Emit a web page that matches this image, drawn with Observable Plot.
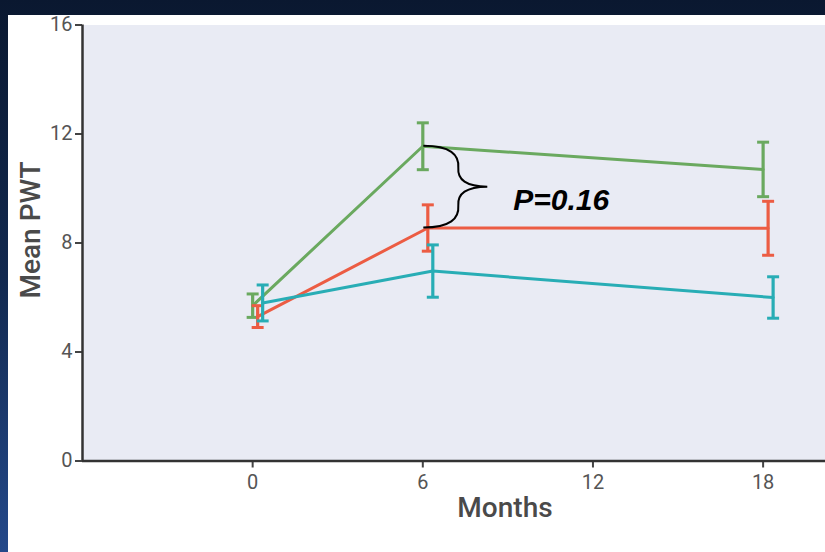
<!DOCTYPE html>
<html><head><meta charset="utf-8">
<script src="https://cdn.jsdelivr.net/npm/d3@7"></script>
<script src="https://cdn.jsdelivr.net/npm/@observablehq/plot@0.6"></script>
<style>
html,body{margin:0;padding:0;}
body{width:825px;height:552px;overflow:hidden;position:relative;background:linear-gradient(to bottom,#0a1830 0%,#12294f 50%,#24498a 100%);font-family:Roboto,sans-serif;}
#panel{position:absolute;left:8px;top:15px;width:817px;height:537px;background:#fff;}
#chart{position:absolute;left:0;top:0;}
#ylabel{position:absolute;left:22px;top:215px;transform:translate(-50%,-50%) rotate(-90deg);font:500 28px Roboto,sans-serif;color:#4a4a4a;white-space:nowrap;}
#xlabel{position:absolute;left:497px;top:492px;transform:translate(-50%,-50%);font:500 28px Roboto,sans-serif;color:#4a4a4a;white-space:nowrap;}
</style></head>
<body>
<div id="panel"><div id="chart"></div><div id="ylabel">Mean PWT</div><div id="xlabel">Months</div></div>
<script>
// ---- data ----
const months = [0, 6, 18];
const seriesNames = ["Green group", "Red group", "Teal group"];
const greenMean = [5.7, 11.55, 10.7];
const greenErr  = [0.43, 0.86, 1.0];
const redMean   = [5.3, 8.55, 8.54];
const redErr    = [0.4, 0.85, 0.99];
const tealMean  = [5.8, 6.97, 6.0];
const tealErr   = [0.66, 0.96, 0.76];
const xTicks = [0, 6, 12, 18];
const yTicks = [0, 4, 8, 12, 16];
const pValueLabel = "P=0.16";

// ---- styles ----
const seriesColors = ["#6aa95f", "#ec5c43", "#28adb5"];
const seriesDx = [0, 5, 10];

const means = [greenMean, redMean, tealMean];
const errs = [greenErr, redErr, tealErr];
const series = seriesNames.map((name, i) => ({
  name, color: seriesColors[i], dx: seriesDx[i],
  rows: months.map((m, j) => ({month: m, mean: means[i][j], err: errs[i][j], series: name}))
}));

const capSymbol = {
  draw(context, size) {
    const r = Math.sqrt(size / Math.PI);
    context.moveTo(-r, 0);
    context.lineTo(r, 0);
  }
};

const seriesMarks = series.flatMap(s => [
  Plot.line(s.rows, {x: "month", y: "mean", stroke: s.color, strokeWidth: 3, dx: s.dx}),
  Plot.ruleX(s.rows, {x: "month", y1: d => d.mean - d.err, y2: d => d.mean + d.err, stroke: s.color, strokeWidth: 3.2, dx: s.dx}),
  Plot.dot(s.rows, {x: "month", y: d => d.mean + d.err, symbol: capSymbol, r: 6, stroke: s.color, strokeWidth: 3, dx: s.dx}),
  Plot.dot(s.rows, {x: "month", y: d => d.mean - d.err, symbol: capSymbol, r: 6, stroke: s.color, strokeWidth: 3, dx: s.dx})
]);

const chart = Plot.plot({
  width: 817, height: 537,
  marginLeft: 74, marginRight: 0, marginTop: 9.5, marginBottom: 91.5,
  style: {fontFamily: "Roboto, sans-serif", fontSize: "20px", color: "#555", background: "transparent", overflow: "visible"},
  x: {domain: [-6, 20.2], ticks: xTicks, label: null},
  y: {domain: [0, 16], ticks: yTicks, label: null},
  marks: [
    Plot.frame({fill: "#e9ebf4", stroke: "none"}),
    Plot.axisX({ticks: xTicks, tickSize: 7, tickPadding: 7, stroke: "#444", strokeWidth: 2, fill: "#555", label: null}),
    Plot.axisY({ticks: yTicks, tickSize: 7, tickPadding: 3, stroke: "#444", strokeWidth: 2, fill: "#555", label: null}),
    Plot.ruleY([0], {stroke: "#333", strokeWidth: 2.5}),
    Plot.ruleX([-6], {stroke: "#333", strokeWidth: 2.5}),
    ...seriesMarks
  ]
});
document.getElementById("chart").appendChild(chart);

// ---- brace annotation between green and red at month 6 ----
const xs = chart.scale("x"), ys = chart.scale("y");
const a = xs.apply(months[1]) + seriesDx[0] + 1;
const y0 = ys.apply(greenMean[1]);
const y1 = ys.apply(redMean[1]);
const m = (y0 + y1) / 2;
const bracePath = `M${a},${y0} C${a+27},${y0} ${a+36},${y0+9} ${a+35},${y0+22} C${a+34},${m-7} ${a+43},${m} ${a+64},${m} C${a+43},${m} ${a+34},${m+7} ${a+35},${y1-22} C${a+36},${y1-9} ${a+27},${y1} ${a},${y1}`;
const svg = d3.select(chart);
svg.append("path").attr("d", bracePath).attr("fill", "none").attr("stroke", "#000").attr("stroke-width", 2);
svg.append("text").attr("x", a + 90).attr("y", m + 23)
  .attr("text-anchor", "start")
  .attr("font-family", "Liberation Sans, Arial, sans-serif").attr("font-size", 30)
  .attr("font-weight", "bold").attr("font-style", "italic").attr("fill", "#000")
  .text(pValueLabel);
</script>
</body></html>
